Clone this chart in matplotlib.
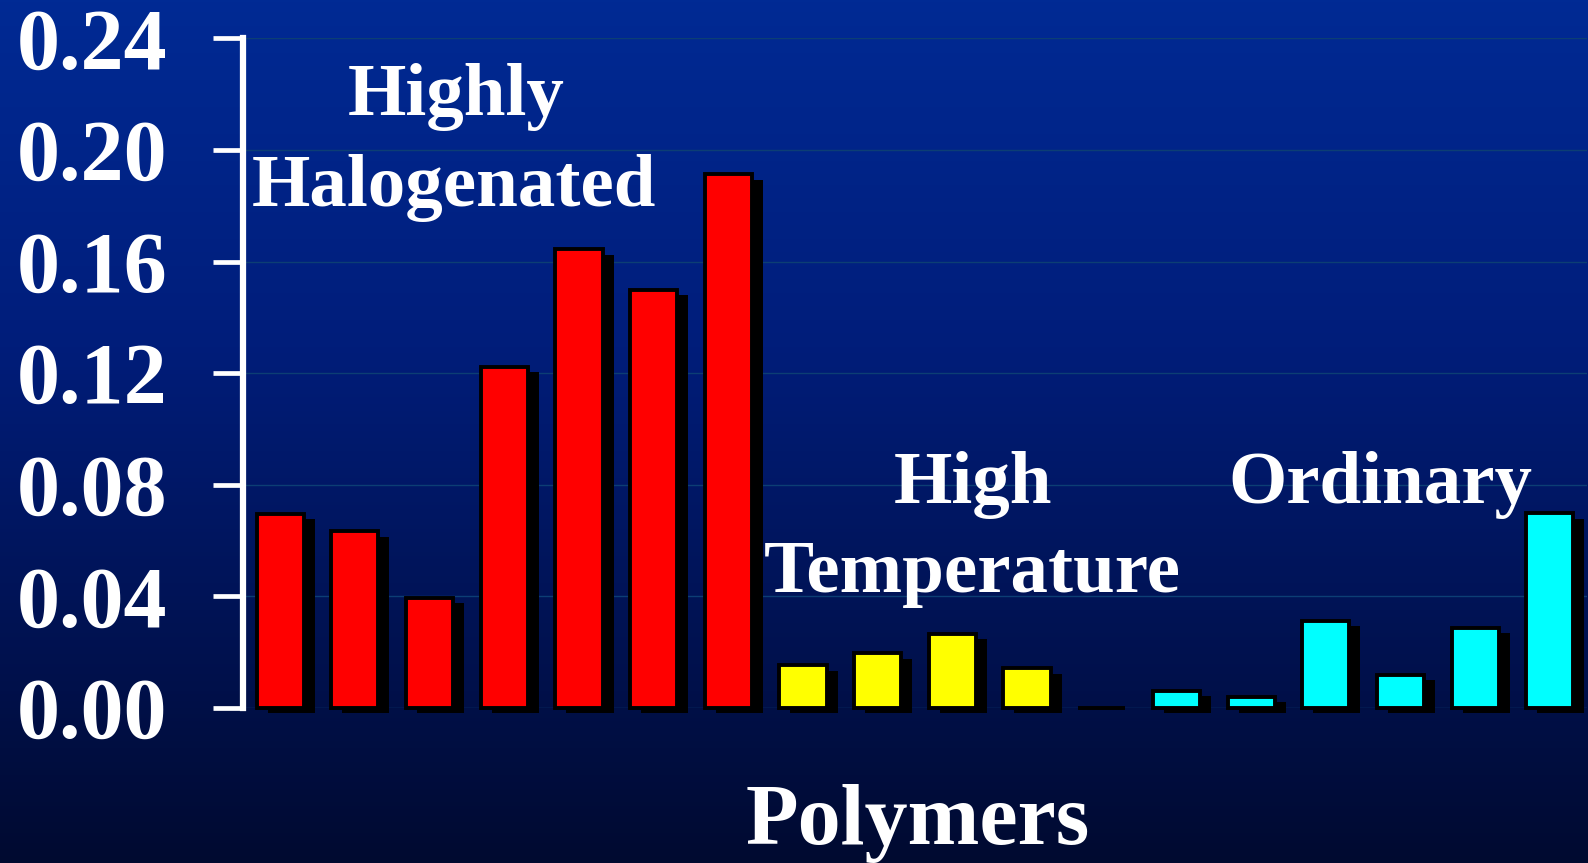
import numpy as np
import matplotlib
matplotlib.use("Agg")
import matplotlib.pyplot as plt
from matplotlib.colors import LinearSegmentedColormap
from matplotlib.transforms import ScaledTranslation

# bar heights per polymer group
halogenated = [0.0695, 0.0633, 0.0396, 0.1222, 0.1644, 0.1498, 0.1913]
high_temp = [0.0153, 0.0196, 0.0265, 0.0142, 0.0]
ordinary = [0.0062, 0.0040, 0.0313, 0.0120, 0.0287, 0.0698]

y_ticks = [0.00, 0.04, 0.08, 0.12, 0.16, 0.20, 0.24]
y_labels = ["0.00", "0.04", "0.08", "0.12", "0.16", "0.20", "0.24"]

groups = [halogenated, high_temp, ordinary]
colors = ["#ff0000", "#ffff00", "#00ffff"]

values = [v for g in groups for v in g]
bar_colors = [c for g, c in zip(groups, colors) for _ in g]
x = np.arange(len(values))

plt.rcParams["font.family"] = ["Liberation Serif", "DejaVu Serif"]
plt.rcParams["font.weight"] = "bold"

fig = plt.figure(figsize=(15.88, 8.63), dpi=100)

# blue gradient behind everything
bg = fig.add_axes([0, 0, 1, 1], zorder=-10)
cmap = LinearSegmentedColormap.from_list(
    "bg", [(0.0, "#002a94"), (0.4, "#001d7a"), (0.8, "#00104a"), (1.0, "#000a30")])
bg.imshow(np.linspace(0, 1, 256).reshape(-1, 1), aspect="auto", cmap=cmap,
          extent=[0, 1, 0, 1])
bg.axis("off")

ax = fig.add_axes([0.153, 0.1796, 0.8464, 0.7758])
ax.set_facecolor("none")

# drop shadow: same bars shifted right/down, no outline
shadow = ax.transData + ScaledTranslation(0.11, -0.053, fig.dpi_scale_trans)
ax.bar(x, values, width=0.63, color="black", linewidth=0,
       transform=shadow, clip_on=False, zorder=2)
ax.bar(x, values, width=0.63, color=bar_colors, edgecolor="black", linewidth=2.8,
       clip_on=False, zorder=3)

ax.set_xlim(-0.5, len(values) - 0.5)
ax.set_ylim(0, 0.24)
ax.set_yticks(y_ticks)
ax.set_yticklabels(y_labels)
ax.set_xticks([])

ax.yaxis.grid(True, color="#0c3e74", linewidth=1.0)
ax.set_axisbelow(True)

for side in ["top", "right", "bottom"]:
    ax.spines[side].set_visible(False)
ax.spines["left"].set_color("white")
ax.spines["left"].set_linewidth(4.5)
ax.tick_params(axis="y", direction="out", length=21.6, width=3.4, color="white",
               labelcolor="white", labelsize=62, pad=33)

txt = dict(color="white", fontsize=54, fontweight="bold", ha="center", va="baseline")
ax.text(2.36, 0.2126, "Highly", **txt)
ax.text(2.33, 0.1800, "Halogenated", **txt)
ax.text(9.28, 0.0735, "High", **txt)
ax.text(9.27, 0.0416, "Temperature", **txt)
ax.text(14.73, 0.0735, "Ordinary", **txt)

fig.text(0.578, 1 - 844 / 863, "Polymers", color="white", fontsize=62,
         fontweight="bold", ha="center", va="baseline")

fig.savefig("out.png", dpi=100)
